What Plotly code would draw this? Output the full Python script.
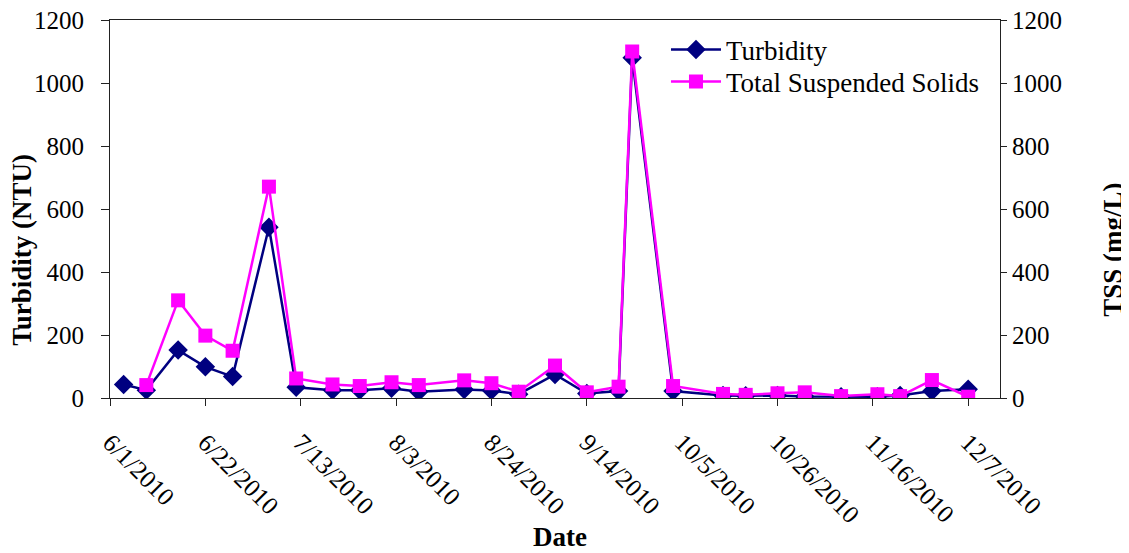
import plotly.graph_objects as go

# ---- data ----
turb_dates = ["2010-06-04", "2010-06-09", "2010-06-16", "2010-06-22", "2010-06-28",
              "2010-07-06", "2010-07-12", "2010-07-20", "2010-07-26", "2010-08-02",
              "2010-08-08", "2010-08-18", "2010-08-24", "2010-08-30", "2010-09-07",
              "2010-09-14", "2010-09-21", "2010-09-24", "2010-10-03", "2010-10-14",
              "2010-10-19", "2010-10-26", "2010-11-01", "2010-11-09", "2010-11-17",
              "2010-11-22", "2010-11-29", "2010-12-07"]
turb_values = [43, 25, 152, 99, 68, 542, 34, 25, 25, 31, 20, 27, 24, 12, 75,
               14, 22, 1080, 22, 8, 7, 8, 5, 4, 4, 8, 22, 28]

tss_dates = ["2010-06-09", "2010-06-16", "2010-06-22", "2010-06-28",
             "2010-07-06", "2010-07-12", "2010-07-20", "2010-07-26", "2010-08-02",
             "2010-08-08", "2010-08-18", "2010-08-24", "2010-08-30", "2010-09-07",
             "2010-09-14", "2010-09-21", "2010-09-24", "2010-10-03", "2010-10-14",
             "2010-10-19", "2010-10-26", "2010-11-01", "2010-11-09", "2010-11-17",
             "2010-11-22", "2010-11-29", "2010-12-07"]
tss_values = [41, 310, 198, 150, 671, 62, 43, 38, 50, 41, 56, 47, 20, 103,
              18, 36, 1100, 38, 13, 10, 15, 18, 6, 12, 6, 57, 4]

x_tick_vals = ["2010-06-01", "2010-06-22", "2010-07-13", "2010-08-03", "2010-08-24",
               "2010-09-14", "2010-10-05", "2010-10-26", "2010-11-16", "2010-12-07"]
x_tick_labels = ["6/1/2010", "6/22/2010", "7/13/2010", "8/3/2010", "8/24/2010",
                 "9/14/2010", "10/5/2010", "10/26/2010", "11/16/2010", "12/7/2010"]
y_tick_vals = [0, 200, 400, 600, 800, 1000, 1200]

FONT = "Liberation Serif, Times New Roman, serif"
AX = "#222222"

fig = go.Figure()
fig.add_trace(go.Scatter(
    x=turb_dates, y=turb_values, name="Turbidity", mode="lines+markers",
    line=dict(color="#000080", width=2.5),
    marker=dict(symbol="diamond", size=15, color="#000080"),
    yaxis="y", legend="legend"))
fig.add_trace(go.Scatter(
    x=tss_dates, y=tss_values, name="Total Suspended Solids", mode="lines+markers",
    line=dict(color="#FF00FF", width=2.5),
    marker=dict(symbol="square", size=14, color="#FF00FF"),
    yaxis="y2", legend="legend2"))

legend_common = dict(xanchor="left", yanchor="middle", bgcolor="rgba(0,0,0,0)",
                     font=dict(family=FONT, size=27), itemwidth=50)

# the page body has an 8px margin, so the figure is 8px smaller and offset
fig.update_layout(
    width=1121, height=545,
    margin=dict(l=102, r=129, t=12, b=155),
    paper_bgcolor="white", plot_bgcolor="white",
    font=dict(family=FONT, size=25, color="black"),
    showlegend=True,
    legend=dict(x=0.6247, y=0.9206, **legend_common),
    legend2=dict(x=0.6247, y=0.836, **legend_common),
    xaxis=dict(
        type="date", range=["2010-06-01", "2010-12-14"], automargin=False,
        tickvals=x_tick_vals, ticktext=x_tick_labels, tickangle=45,
        ticks="outside", ticklen=7, tickcolor=AX,
        showline=True, linecolor=AX, linewidth=1, mirror=True,
        showgrid=False, zeroline=False,
        tickfont=dict(family=FONT, size=25),
        ticklabelstandoff=12,
    ),
    yaxis=dict(
        range=[0, 1200], tickvals=y_tick_vals, automargin=False,
        ticks="outside", ticklen=8, tickcolor=AX,
        showline=True, linecolor=AX, linewidth=1,
        showgrid=False, zeroline=False, ticklabeloverflow="allow",
        tickfont=dict(family=FONT, size=25), ticklabelstandoff=12,
    ),
    yaxis2=dict(
        range=[0, 1200], tickvals=y_tick_vals, overlaying="y", side="right", automargin=False,
        ticks="outside", ticklen=6, tickcolor=AX,
        showline=True, linecolor=AX, linewidth=1,
        showgrid=False, zeroline=False, ticklabeloverflow="allow",
        tickfont=dict(family=FONT, size=25),
    ),
    annotations=[
        dict(text="<b>Turbidity (NTU)</b>", xref="paper", yref="paper",
             x=-0.0989, y=0.392, xanchor="center", yanchor="middle",
             textangle=-90, showarrow=False, font=dict(family=FONT, size=27)),
        dict(text="<b>TSS (mg/L)</b>", xref="paper", yref="paper",
             x=1.127, y=0.392, xanchor="center", yanchor="middle",
             textangle=-90, showarrow=False, font=dict(family=FONT, size=27)),
        dict(text="<b>Date</b>", xref="paper", yref="paper",
             x=0.5056, y=-0.368, xanchor="center", yanchor="middle",
             showarrow=False, font=dict(family=FONT, size=27)),
    ],
)

fig.write_html("out.html")
